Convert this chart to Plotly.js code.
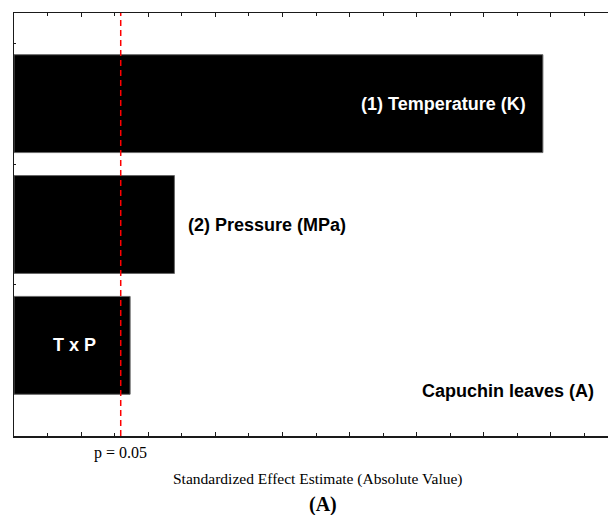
<!DOCTYPE html>
<html>
<head>
<meta charset="utf-8">
<script src="https://cdn.plot.ly/plotly-3.0.1.min.js"></script>
<style>html,body{margin:0;padding:0;background:#fff;}#chart{width:608px;height:515px;}</style>
</head>
<body>
<div id="chart"></div>
<script>
var categories = ["(1) Temperature (K)", "(2) Pressure (MPa)", "T x P"];
var effects = [15.76, 4.78, 3.46];
var pCritical = 3.18;
var pLabel = "p = 0.05";
var xTitle = "Standardized Effect Estimate (Absolute Value)";
var panelLabel = "(A)";
var sampleLabel = "Capuchin leaves (A)";

var trace = {
  type: "bar",
  orientation: "h",
  y: categories,
  x: effects,
  width: 0.81,
  marker: {color: "#000000", line: {color: "#666666", width: 1}},
  hoverinfo: "none"
};

var labelStyles = [
  {xanchor: "right", xshift: -15, color: "#ffffff"},
  {xanchor: "left", xshift: 12, color: "#000000"},
  {xanchor: "center", xshift: 0, color: "#ffffff", center: true}
];

var annotations = categories.map(function (c, i) {
  var s = labelStyles[i];
  return {
    x: s.center ? effects[i] * 0.52 : effects[i],
    y: c, xref: "x", yref: "y",
    text: "<b>" + c + "</b>", showarrow: false,
    xanchor: s.xanchor, xshift: s.xshift,
    font: {family: "Liberation Sans, Arial, sans-serif", size: 18, color: s.color}
  };
});
annotations.push({
  x: pCritical, y: -0.04, xref: "x", yref: "paper", yanchor: "middle",
  text: pLabel, showarrow: false,
  font: {family: "Liberation Serif, Times New Roman, serif", size: 16, color: "#000"}
});
annotations.push({
  x: 0.512, y: -0.102, xref: "paper", yref: "paper", yanchor: "middle",
  text: xTitle, showarrow: false,
  font: {family: "Liberation Serif, Times New Roman, serif", size: 15.5, color: "#000"}
});
annotations.push({
  x: 0.521, y: -0.163, xref: "paper", yref: "paper", yanchor: "middle",
  text: "<b>" + panelLabel + "</b>", showarrow: false,
  font: {family: "Liberation Serif, Times New Roman, serif", size: 20, color: "#000"}
});
annotations.push({
  x: 0.98, y: 2.38, xref: "paper", yref: "y", xanchor: "right",
  text: "<b>" + sampleLabel + "</b>", showarrow: false,
  font: {family: "Liberation Sans, Arial, sans-serif", size: 18, color: "#000"}
});

var layout = {
  width: 608, height: 515,
  margin: {l: 14, r: 0, t: 13, b: 79},
  paper_bgcolor: "#fff", plot_bgcolor: "#fff",
  showlegend: false,
  xaxis: {
    range: [0, 17.7], showgrid: false, zeroline: false,
    showline: true, linecolor: "#1a1a1a", linewidth: 1.5, mirror: "ticks",
    ticks: "inside", ticklen: 4, tickcolor: "#1a1a1a", dtick: 2, tick0: 0,
    minor: {ticks: "inside", ticklen: 3, dtick: 1, tickcolor: "#1a1a1a", showgrid: false},
    showticklabels: false, fixedrange: true
  },
  yaxis: {
    type: "category", range: [2.75, -0.75],
    showgrid: false, zeroline: false,
    showline: true, linecolor: "#1a1a1a", linewidth: 1.5, mirror: false,
    ticks: "inside", tickson: "boundaries", ticklen: 2, tickcolor: "#1a1a1a",
    showticklabels: false, fixedrange: true
  },
  shapes: [{
    type: "line", xref: "x", yref: "paper", x0: pCritical, x1: pCritical, y0: 0, y1: 1,
    line: {color: "#ff0000", width: 1.5, dash: "6px,4px"}
  }],
  annotations: annotations
};

Plotly.newPlot("chart", [trace], layout, {staticPlot: true, displayModeBar: false});
</script>
</body>
</html>
